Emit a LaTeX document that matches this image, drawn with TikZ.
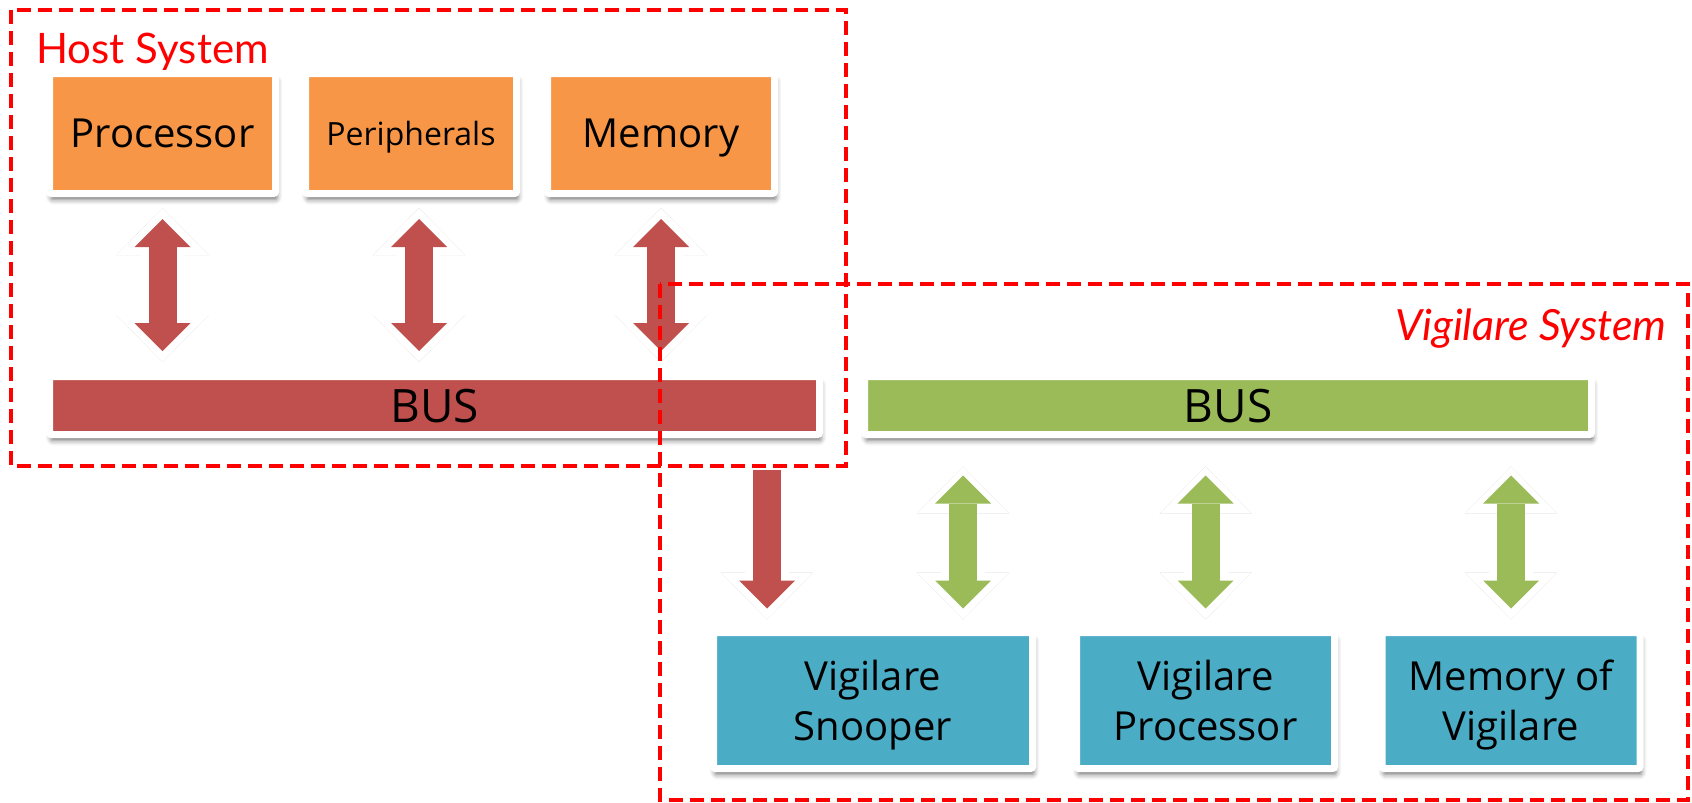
\documentclass[tikz,border=0pt]{standalone}
\usepackage{fontspec}
\setmainfont{Open Sans}
\newfontfamily\titlefont{Lato}
\usetikzlibrary{arrows.meta,shadows.blur,positioning}
\definecolor{unitorange}{RGB}{247,150,70}
\definecolor{busred}{RGB}{192,80,77}
\definecolor{busgreen}{RGB}{155,187,89}
\definecolor{unitblue}{RGB}{75,172,198}
\definecolor{framered}{RGB}{255,0,0}

\begin{document}
\begin{tikzpicture}[x=1pt,y=-1pt]
    % Define styles
    \tikzstyle{unit} = [rectangle, draw=white, line width=7pt, rounded corners=2pt, text=black, align=center, text depth=0pt, blur shadow={shadow xshift=1.5pt, shadow yshift=-6pt, shadow blur radius=5pt, shadow opacity=55}]
    \tikzstyle{hostunit} = [unit, fill=unitorange, minimum height=120pt, font=\fontsize{40}{50}\selectfont]
    \tikzstyle{vigunit} = [unit, fill=unitblue, minimum width=258pt, minimum height=136pt, font=\fontsize{40}{50}\selectfont]
    \tikzstyle{bus} = [unit, minimum height=58pt, font=\fontsize{46}{50}\selectfont]
    \tikzstyle{linkshade} = [black!25, line width=44pt, xshift=2pt, yshift=-4pt]
    \tikzstyle{linkrim} = [white, line width=44pt]
    \tikzstyle{linkcore} = [line width=28pt]
    \tikzstyle{sysbox} = [framered, line width=3.5pt, dash pattern=on 14pt off 7pt]
    \tikzstyle{systitle} = [text=framered, font=\titlefont\fontsize{42}{50}\selectfont]
    \tikzset{rimtip/.tip={Triangle[width=92pt,length=47pt,line width=0pt 0 0]},
             coretip/.tip={Triangle[width=56pt,length=28pt,line width=0pt 0 0]}}

    \useasboundingbox (0,0) rectangle (1692,803);

    % Host system
    \node[systitle, anchor=base west] (hosttitle) at (33,63) {Host System};
    \node[hostunit, minimum width=226pt] (proc) at (162.5,133.5) {Processor};
    \node[hostunit, minimum width=211pt, font=\fontsize{32}{40}\selectfont] (peri) at (411,133.5) {Peripherals};
    \node[hostunit, minimum width=227pt] (mem) at (661,133.5) {Memory};
    \node[bus, fill=busred, minimum width=770pt] (hbus) at (434.5,405.5) {BUS};

    % Vigilare system
    \node[systitle, anchor=base east, font=\titlefont\itshape\fontsize{43}{50}\selectfont] (vigtitle) at (1670,340) {Vigilare System};
    \node[bus, fill=busgreen, minimum width=727pt] (vbus) at (1228,405.5) {BUS};
    \node[vigunit, minimum width=319pt] (snoop) at (873,700.5) {Vigilare\\Snooper};
    \node[vigunit] (vproc) at (1205.5,700.5) {Vigilare\\Processor};
    \node[vigunit] (vmem) at (1511,700.5) {Memory of\\Vigilare};

    % Host links
    \foreach \n/\dx in {proc/0, peri/8, mem/0} {
        \draw[linkshade, rimtip-rimtip, shorten <=11pt, shorten >=11pt] ([xshift=\dx pt]\n.south) -- ([xshift=\dx pt]\n.south |- hbus.north);
        \draw[linkrim, rimtip-rimtip, shorten <=11pt, shorten >=11pt] ([xshift=\dx pt]\n.south) -- ([xshift=\dx pt]\n.south |- hbus.north);
        \draw[linkcore, busred, coretip-coretip, shorten <=22pt, shorten >=22pt] ([xshift=\dx pt]\n.south) -- ([xshift=\dx pt]\n.south |- hbus.north);
    }

    % Snooper tap
    \coordinate (tap) at (767,467);
    \draw[linkshade, -rimtip, shorten >=9.5pt] (tap) -- (tap |- snoop.north);
    \draw[linkrim, -rimtip, shorten >=9.5pt] (tap) -- (tap |- snoop.north);
    \draw[linkcore, busred, -coretip, shorten <=3pt, shorten >=20.5pt] (tap) -- (tap |- snoop.north);

    % Vigilare links
    \foreach \n/\dx in {snoop/90, vproc/0, vmem/0} {
        \draw[linkshade, rimtip-rimtip, shorten <=28.5pt, shorten >=9.5pt] ([xshift=\dx pt]\n.north |- vbus.south) -- ([xshift=\dx pt]\n.north);
        \draw[linkrim, rimtip-rimtip, shorten <=28.5pt, shorten >=9.5pt] ([xshift=\dx pt]\n.north |- vbus.south) -- ([xshift=\dx pt]\n.north);
        \draw[linkcore, busgreen, coretip-coretip, shorten <=37.5pt, shorten >=20.5pt] ([xshift=\dx pt]\n.north |- vbus.south) -- ([xshift=\dx pt]\n.north);
    }

    % System frames
    \draw[sysbox] (11,10) rectangle (846,466);
    \draw[sysbox] (660,284) rectangle (1688,800);
\end{tikzpicture}
\end{document}
